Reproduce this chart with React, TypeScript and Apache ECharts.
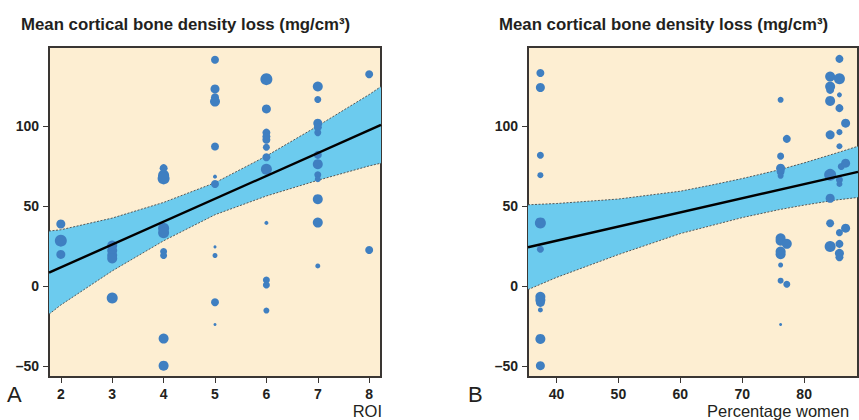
import React, { useEffect, useRef } from "react";
import * as echarts from "echarts";

// ---------- Panel A: ROI ----------
const roiX = [2, 2, 2, 3, 3, 3, 3, 3, 4, 4, 4, 4, 4, 4, 4, 4, 4, 5, 5, 5, 5, 5, 5, 5, 5, 5, 5, 5, 6, 6, 6, 6, 6, 6, 6, 6, 6, 6, 6, 6, 7, 7, 7, 7, 7, 7, 7, 7, 7, 7, 7, 7, 8, 8];
const roiY = [39, 28.6, 20, 25.5, 22.5, 19.5, 17.5, -7.2, 73.9, 69.5, 67.5, 36.4, 33.5, 21.8, 19.3, -32.6, -49.5, 141.6, 123.4, 118.2, 115.5, 87.4, 68.6, 64, 24.7, 19.3, -9.9, -23.8, 129.5, 110.9, 96.1, 93.6, 91.6, 87, 80.7, 73.2, 39.7, 4, 0.9, -15.1, 124.9, 116.8, 102, 99.5, 96.1, 82.2, 76.4, 69.7, 67, 54.5, 39.9, 12.8, 132.6, 22.8];
const roiW = [4.5, 6, 4.5, 5, 5, 5, 5, 5.5, 4, 5.5, 6, 5.5, 5.5, 3.5, 3.5, 5, 5, 4, 4.5, 4, 5, 4, 2, 4, 1.5, 2.5, 4, 1.5, 6, 4.5, 4, 4, 4, 3.5, 4, 5.5, 2, 3.5, 3.5, 3, 5, 3.5, 4.5, 4, 3.5, 4, 5, 3.5, 3, 5, 5, 2.5, 4, 4];
const roiBandX = [1.77, 2, 3, 4, 5, 6, 7, 8, 8.23];
const roiBandUpper = [34.6, 35.4, 42.7, 52.5, 64.8, 81.5, 100.3, 119.9, 124.9];
const roiBandLower = [-17.4, -11.6, 9.7, 28.5, 44.8, 56.5, 66.3, 75.3, 77.0];
const roiFitX = [1.77, 8.23];
const roiFitY = [8.6, 100.9];
const roiTicks = [2, 3, 4, 5, 6, 7, 8];

// ---------- Panel B: Percentage women ----------
const womX = [37.4, 37.4, 37.4, 37.4, 37.4, 37.4, 37.4, 37.4, 37.4, 37.4, 37.4, 37.4,
  76.2, 76.2, 76.2, 76.2, 76.2, 76.2, 76.2, 76.2, 76.2, 76.2, 76.2, 76.2,
  77.2, 77.2, 77.2,
  84.2, 84.2, 84.2, 84.2, 84.2, 84.2, 84.2, 84.2, 84.2,
  85.7, 85.7, 85.7, 85.7, 85.7, 85.7, 85.7, 85.7, 85.7, 85.7, 85.7, 85.7,
  86.0, 86.7, 86.7, 86.7];
const womY = [133.4, 124.3, 82, 69.5, 39.7, 23.2, -6.5, -8.5, -10, -14.7, -32.8, -49.5,
  116.6, 81.4, 73.9, 71.8, 69.1, 30.1, 28.6, 21.8, 20.1, 13.4, 3.6, -23.8,
  92.2, 26.6, 1.4,
  131.1, 124.9, 122.8, 115.9, 94.7, 69.7, 55.1, 39.5, 24.9,
  142.2, 129.7, 119.7, 111.4, 96.4, 87.6, 66.6, 64, 33.6, 26.6, 20.7, 18.2,
  74.9, 102, 77, 36.4];
const womW = [4, 4.5, 3.5, 3, 5.5, 3.5, 5, 5, 4.5, 2.5, 5, 4.5,
  3, 3.5, 4.5, 4, 3, 5, 5, 5, 5, 2.5, 3, 1.5,
  4, 5, 3.5,
  5, 5, 4, 5, 4.5, 6, 4.5, 4, 5.5,
  4, 5.5, 2.5, 4, 3, 3, 3.5, 3, 3.5, 4, 4.5, 4,
  3.5, 4.5, 4.5, 4.5];
const womBandX = [35.4, 40, 50, 60, 65, 70, 76, 80, 85, 88.7];
const womBandUpper = [51.0, 51.8, 54.6, 59.5, 63.3, 67.4, 72.9, 77.2, 83.1, 87.6];
const womBandLower = [-2.0, 5.6, 19.9, 33.0, 38.0, 43.0, 48.0, 50.8, 53.9, 55.6];
const womFitX = [35.4, 88.7];
const womFitY = [24.5, 71.6];
const womTicks = [40, 50, 60, 70, 80];

const yTicks = [-50, 0, 50, 100];
const yMin = -56.6;
const yMax = 149.6;

const FONT = "'Liberation Sans', Arial, Helvetica, sans-serif";
const DARK = "#3a3633";
const TEXT = "#231f20";
const BG = "#fdeed2";
const BAND = "#6ccbee";
const DOT = "#3f7fc1";

const fmt = (v: number) => (v < 0 ? "\u2013" + Math.abs(v) : String(v));

function bandSeries(idx: number, bx: number[], bu: number[], bl: number[]) {
  return {
    type: "custom",
    xAxisIndex: idx,
    yAxisIndex: idx,
    silent: true,
    z: 1,
    clip: true,
    data: [[bx[0], bu[0]]],
    renderItem: (_p: any, api: any) => {
      const up = bx.map((x, i) => api.coord([x, bu[i]]));
      const lo = bx.map((x, i) => api.coord([x, bl[i]])).reverse();
      return {
        type: "polygon",
        shape: { points: up.concat(lo) },
        style: { fill: BAND },
      };
    },
  };
}

function edgeSeries(idx: number, bx: number[], vals: number[]) {
  return {
    type: "line",
    xAxisIndex: idx,
    yAxisIndex: idx,
    silent: true,
    symbol: "none",
    z: 2,
    data: bx.map((x, i) => [x, vals[i]]),
    lineStyle: { color: "#4a4a4a", width: 0.9, type: [2, 1.5] },
  };
}

function dotSeries(idx: number, xs: number[], ys: number[], ws: number[]) {
  return {
    type: "scatter",
    xAxisIndex: idx,
    yAxisIndex: idx,
    z: 3,
    data: xs.map((x, i) => [x, ys[i], ws[i]]),
    symbolSize: (v: number[]) => v[2] * 2,
    itemStyle: { color: DOT, opacity: 1 },
  };
}

function fitSeries(idx: number, fx: number[], fy: number[]) {
  return {
    type: "line",
    xAxisIndex: idx,
    yAxisIndex: idx,
    silent: true,
    symbol: "none",
    z: 4,
    data: fx.map((x, i) => [x, fy[i]]),
    lineStyle: { color: "#000", width: 2.4 },
  };
}

function xAxis(idx: number, min: number, max: number, ticks: number[]) {
  return {
    type: "value",
    gridIndex: idx,
    min,
    max,
    splitLine: { show: false },
    axisLine: { show: false, onZero: false },
    axisTick: { show: true, length: 6, inside: false, customValues: ticks, lineStyle: { color: DARK, width: 1 } },
    axisLabel: {
      customValues: ticks,
      margin: 10,
      color: TEXT,
      fontSize: 14,
      fontWeight: "bold",
      fontFamily: FONT,
      formatter: fmt,
    },
  };
}

function yAxis(idx: number) {
  return {
    type: "value",
    gridIndex: idx,
    min: yMin,
    max: yMax,
    splitLine: { show: false },
    axisLine: { show: false, onZero: false },
    axisTick: { show: true, length: 6, customValues: yTicks, lineStyle: { color: DARK, width: 1 } },
    axisLabel: {
      customValues: yTicks,
      margin: 10,
      color: TEXT,
      fontSize: 14,
      fontWeight: "bold",
      fontFamily: FONT,
      formatter: fmt,
    },
  };
}

function textEl(text: string, x: number, y: number, size: number, align: string = "left", weight: string = "normal") {
  return {
    type: "text",
    x,
    y,
    style: {
      text,
      fill: TEXT,
      font: `${weight} ${size}px ${FONT}`,
      textAlign: align,
      textVerticalAlign: "middle",
    },
  };
}

export default function App() {
  const ref = useRef<HTMLDivElement>(null);
  useEffect(() => {
    if (!ref.current) return;
    const chart = echarts.init(ref.current, null, { renderer: "svg" });
    const option: any = {
      animation: false,
      backgroundColor: "#ffffff",
      grid: [
        { left: 49, top: 47, width: 332, height: 330, show: true, backgroundColor: BG, borderColor: DARK, borderWidth: 2 },
        { left: 528, top: 47, width: 330, height: 330, show: true, backgroundColor: BG, borderColor: DARK, borderWidth: 2 },
      ],
      xAxis: [xAxis(0, 1.77, 8.23, roiTicks), xAxis(1, 35.4, 88.7, womTicks)],
      yAxis: [yAxis(0), yAxis(1)],
      series: [
        bandSeries(0, roiBandX, roiBandUpper, roiBandLower),
        edgeSeries(0, roiBandX, roiBandUpper),
        edgeSeries(0, roiBandX, roiBandLower),
        dotSeries(0, roiX, roiY, roiW),
        fitSeries(0, roiFitX, roiFitY),
        bandSeries(1, womBandX, womBandUpper, womBandLower),
        edgeSeries(1, womBandX, womBandUpper),
        edgeSeries(1, womBandX, womBandLower),
        dotSeries(1, womX, womY, womW),
        fitSeries(1, womFitX, womFitY),
      ],
      graphic: [
        textEl("Mean cortical bone density loss (mg/cm\u00b3)", 21, 24, 16.8, "left", "bold"),
        textEl("Mean cortical bone density loss (mg/cm\u00b3)", 499, 24, 16.8, "left", "bold"),
        textEl("A", 7, 394, 22),
        textEl("B", 468, 394, 22),
        textEl("ROI", 382, 411, 16.5, "right"),
        textEl("Percentage women", 707, 411, 16.5),
      ],
    };
    chart.setOption(option);
    return () => chart.dispose();
  }, []);
  return (
    <div
      ref={ref}
      style={{ position: "fixed", left: 0, top: 0, width: 859, height: 420 }}
    />
  );
}
